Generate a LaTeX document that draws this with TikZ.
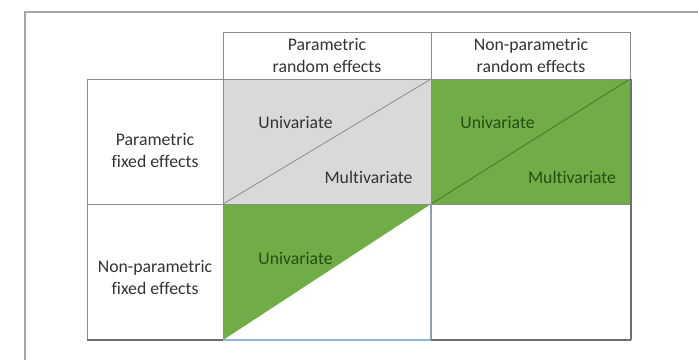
\documentclass[tikz,border=0pt]{standalone}
\usepackage{fontspec}
\setmainfont{Carlito}[Ligatures={NoCommon,NoContextual}]
\definecolor{gridgray}{HTML}{8C8C8C}
\definecolor{framegray}{HTML}{A6A6A6}
\definecolor{cellgray}{HTML}{D9D9D9}
\definecolor{cellgreen}{HTML}{70AD47}
\definecolor{diaggreen}{HTML}{4E7F2E}
\definecolor{txtgreen}{HTML}{264D12}
\definecolor{txtgray}{HTML}{333333}
\definecolor{blueedge}{HTML}{8FB4DE}
\definecolor{bluediv}{HTML}{8C9DB9}
\definecolor{shadowgray}{HTML}{6E6E6E}
\begin{document}
\begin{tikzpicture}[x=0.75pt,y=-0.75pt,
  lbl/.style={align=center,font=\fontsize{13.3pt}{16.5pt}\selectfont,text=txtgray,inner sep=0pt},
  glbl/.style={lbl,text=txtgreen},
  gridline/.style={draw=gridgray,line width=0.7pt},
  shadowline/.style={draw=shadowgray,line width=1.3pt}]
\useasboundingbox (0,0) rectangle (698,360);
% outer frame (top and left only visible)
\draw[framegray,line width=0.8pt] (25,360) -- (25,12) -- (698,12);
% grid coordinates
\coordinate (h0) at (223,32); \coordinate (h1) at (431,32); \coordinate (h2) at (630,32);
\coordinate (a0) at (87,79);  \coordinate (a1) at (223,79); \coordinate (a2) at (431,79); \coordinate (a3) at (630,79);
\coordinate (b0) at (87,204); \coordinate (b1) at (223,204); \coordinate (b2) at (431,204); \coordinate (b3) at (630,204);
\coordinate (c0) at (87,340); \coordinate (c1) at (223,340); \coordinate (c2) at (431,340); \coordinate (c3) at (630,340);
% fills
\fill[cellgray] (a1) rectangle (b2);
\fill[cellgreen] (a2) rectangle (b3);
\fill[cellgreen] (b1) -- (b2) -- (c1) -- cycle;
% diagonals
\draw[gridgray,line width=0.6pt] (b1) -- (a2);
\draw[diaggreen,line width=0.8pt] (b2) -- (a3);
% grid lines
\draw[gridline] (h0) -- (h2) -- (c3);
\draw[gridline] (a0) -- (a3);
\draw[gridline] (b0) -- (b3);
\draw[gridline] (a0) -- (c0);
\draw[gridline] (h0) -- (c1);
\draw[gridline] (h1) -- (b2);
\draw[bluediv,line width=0.9pt] (b2) -- (c2);
% shadow on right and bottom
\draw[shadowline] ([xshift=0.6pt]a3) -- ([xshift=0.6pt]c3);
\draw[shadowline] (c0) -- (c1);
\draw[shadowline] (c2) -- ([xshift=0.6pt]c3);
\draw[blueedge,line width=1.3pt] (c1) -- (c2);
% labels
\node[lbl] (hpr) at (327,55.5) {Parametric\\random effects};
\node[lbl] (hnr) at (531,55.5) {Non-parametric\\random effects};
\node[lbl] (rpf) at (155,150) {Parametric\\fixed effects};
\node[lbl] (rnf) at (155,277) {Non-parametric\\fixed effects};
\node[lbl] (u11) at (295.5,122) {Univariate};
\node[lbl] (m11) at (368.5,177) {Multivariate};
\node[glbl] (u12) at (497.5,122) {Univariate};
\node[glbl] (m12) at (572,177) {Multivariate};
\node[glbl] (u21) at (295.5,258) {Univariate};
\end{tikzpicture}
\end{document}
